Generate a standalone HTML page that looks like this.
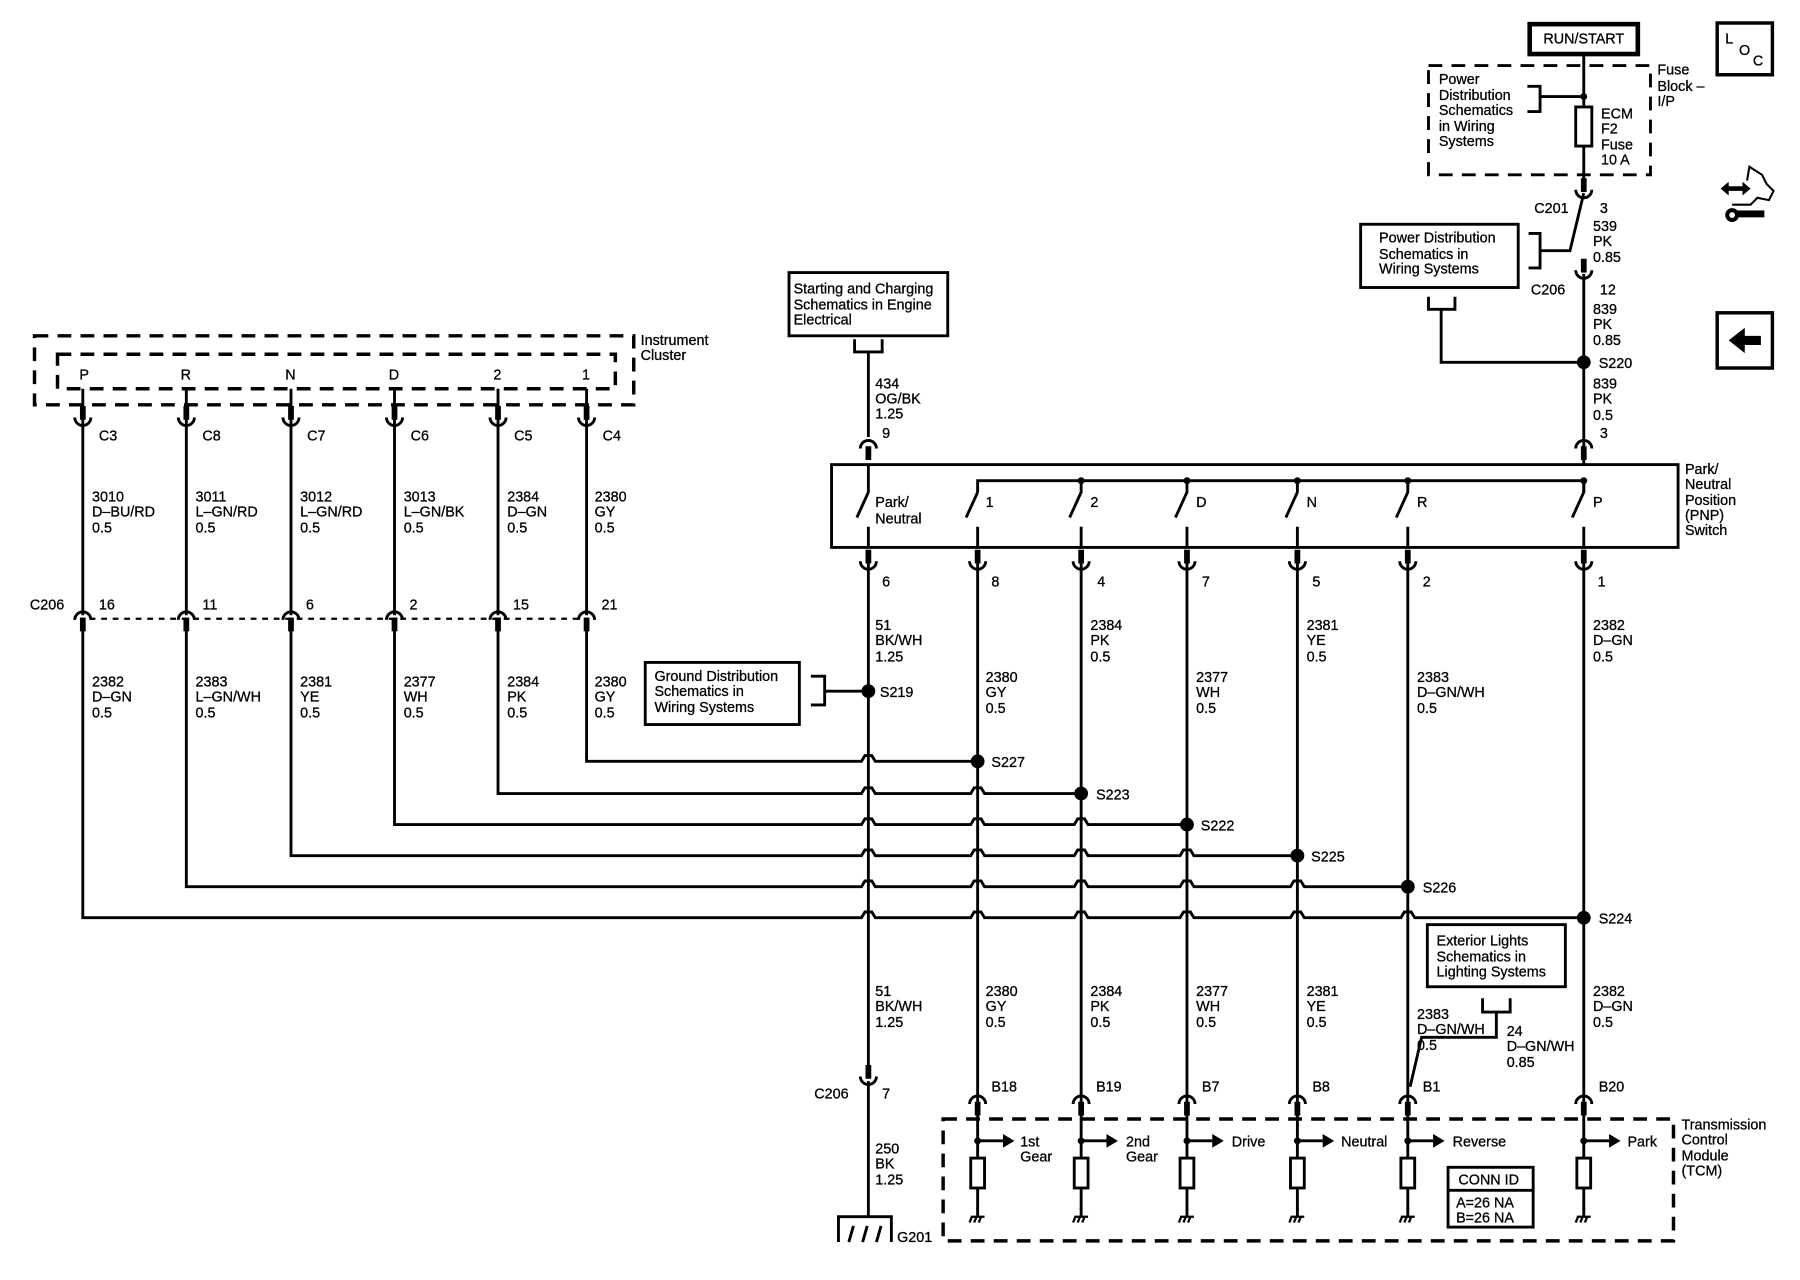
<!DOCTYPE html>
<html><head><meta charset="utf-8"><style>
html,body{margin:0;padding:0;background:#fff;}
svg{display:block;}
text{font-family:"Liberation Sans",Arial,sans-serif;font-size:12.5px;fill:#000;stroke:#000;stroke-width:0.25;}
</style></head><body>
<svg width="1800" height="1280" viewBox="0 0 1565 1113" preserveAspectRatio="none" xmlns="http://www.w3.org/2000/svg">
<defs>
<g id="cu"><line x1="0" y1="-15" x2="0" y2="-3" stroke="#000" stroke-width="5"/><path d="M-7,-5 A7,7 0 0 0 7,-5" fill="none" stroke="#000" stroke-width="2.5"/></g>
<g id="ca"><path d="M-7,5 A7,7 0 0 1 7,5" fill="none" stroke="#000" stroke-width="2.5"/><line x1="0" y1="3" x2="0" y2="15" stroke="#000" stroke-width="5"/></g>
<g id="gnd"><line x1="0" y1="0" x2="0" y2="8" stroke="#000" stroke-width="2.5"/><path d="M-6,8 H6 M-5,8 L-7,13 M-1,8 L-3,13 M3,8 L1,13" stroke="#000" stroke-width="2" fill="none"/></g>
</defs>
<rect width="1565" height="1113" fill="#fff"/>
<g fill="none" stroke="#000" stroke-width="2.5">
<rect x="1330" y="21" width="94" height="26" stroke-width="4"/>
<rect x="1242" y="57" width="193" height="95" stroke-dasharray="12,8"/>
<line x1="1377" y1="47" x2="1377" y2="163"/>
<path d="M1328,75 H1339 V97 H1328 M1339,84 H1377"/>
<rect x="1370" y="93" width="14" height="34" fill="#fff"/>
<path d="M1377,168 L1365,218 H1339 M1329,203 H1339 V233 H1329"/>
<rect x="1183" y="195" width="137" height="55"/>
<line x1="1377" y1="238" x2="1377" y2="404"/>
<path d="M1242,258 V269 H1265 V258 M1253,269 V315 H1377"/>
<rect x="1493" y="20" width="48" height="45" stroke-width="3"/>
<rect x="1493" y="272" width="48" height="48" stroke-width="3"/>
<rect x="30" y="292" width="521" height="60" stroke-dasharray="12,8" stroke-width="3"/>
<rect x="50" y="308" width="485" height="30" stroke-dasharray="12,8" stroke-width="3"/>
<path d="M72,338 V360 M162,338 V360 M253,338 V360 M343,338 V360 M433,338 V360 M510,338 V360"/>
<path d="M72,360 V535 M162,360 V535 M253,360 V535 M343,360 V535 M433,360 V535 M510,360 V535"/>
<line x1="78" y1="538" x2="504" y2="538" stroke-dasharray="5,5" stroke-width="2"/>
<path d="M510,545 V662 H749 L752,657 H758 L761,662 H850"/>
<path d="M433,545 V690 H749 L752,685 H758 L761,690 H844 L847,685 H853 L856,690 H940"/>
<path d="M343,545 V717 H749 L752,712 H758 L761,717 H844 L847,712 H853 L856,717 H934 L937,712 H943 L946,717 H1032"/>
<path d="M253,545 V744 H749 L752,739 H758 L761,744 H844 L847,739 H853 L856,744 H934 L937,739 H943 L946,744 H1026 L1029,739 H1035 L1038,744 H1128"/>
<path d="M162,545 V771 H749 L752,766 H758 L761,771 H844 L847,766 H853 L856,771 H934 L937,766 H943 L946,771 H1026 L1029,766 H1035 L1038,771 H1122 L1125,766 H1131 L1134,771 H1224"/>
<path d="M72,545 V798 H749 L752,793 H758 L761,798 H844 L847,793 H853 L856,798 H934 L937,793 H943 L946,798 H1026 L1029,793 H1035 L1038,798 H1122 L1125,793 H1131 L1134,798 H1218 L1221,793 H1227 L1230,798 H1377"/>
<rect x="686" y="237" width="138" height="55"/>
<path d="M743,295 V306 H767 V295 M755,306 V380"/>
<rect x="723" y="404" width="736" height="72"/>
<path d="M850,428 V418 H1377 V428"/>
<path d="M755,404 V428 L745,450 M755,458 V476"/>
<path d="M850,428 L840,450 M850,458 V476"/>
<path d="M940,418 V428 L930,450 M940,458 V476"/>
<path d="M1032,418 V428 L1022,450 M1032,458 V476"/>
<path d="M1128,418 V428 L1118,450 M1128,458 V476"/>
<path d="M1224,418 V428 L1214,450 M1224,458 V476"/>
<path d="M1377,418 V428 L1367,450 M1377,458 V476"/>
<path d="M755,490 V930 M850,490 V960 M940,490 V960 M1032,490 V960 M1128,490 V960 M1224,490 V960 M1377,490 V960"/>
<path d="M1301,880 V902 H1236 L1226,945"/>
<rect x="561" y="576" width="134" height="54"/>
<path d="M705,588 H717 V613 H705 M717,601 H755"/>
<rect x="1241" y="804" width="120" height="54"/>
<path d="M1289,868 V880 H1313 V868"/>
<line x1="755" y1="940" x2="755" y2="1058"/>
<path d="M729,1080 V1058 H775 V1080 M738,1080 L742,1066 M750,1080 L754,1066 M762,1080 L766,1066"/>
<rect x="820" y="973" width="635" height="106" stroke-dasharray="12,8" stroke-width="3"/>
<path d="M850,965 V1052 M940,965 V1052 M1032,965 V1052 M1128,965 V1052 M1224,965 V1052 M1377,965 V1052"/>
<path d="M850,992 H872 M940,992 H962 M1032,992 H1054 M1128,992 H1150 M1224,992 H1246 M1377,992 H1399"/>
<rect x="1259" y="1015" width="74" height="52"/>
<line x1="1259" y1="1035" x2="1333" y2="1035"/>
</g>
<g fill="#fff" stroke="#000" stroke-width="2.5">
<rect x="844" y="1007" width="12" height="26"/><rect x="934" y="1007" width="12" height="26"/><rect x="1026" y="1007" width="12" height="26"/><rect x="1122" y="1007" width="12" height="26"/><rect x="1218" y="1007" width="12" height="26"/><rect x="1371" y="1007" width="12" height="26"/>
</g>
<g fill="#000">
<path d="M872,986 L882,992 L872,998Z M962,986 L972,992 L962,998Z M1054,986 L1064,992 L1054,998Z M1150,986 L1160,992 L1150,998Z M1246,986 L1256,992 L1246,998Z M1399,986 L1409,992 L1399,998Z"/>
<circle cx="850" cy="992" r="3"/><circle cx="940" cy="992" r="3"/><circle cx="1032" cy="992" r="3"/><circle cx="1128" cy="992" r="3"/><circle cx="1224" cy="992" r="3"/><circle cx="1377" cy="992" r="3"/>
<circle cx="1377" cy="84" r="3"/>
<circle cx="940" cy="418" r="3"/><circle cx="1032" cy="418" r="3"/><circle cx="1128" cy="418" r="3"/><circle cx="1224" cy="418" r="3"/><circle cx="1377" cy="418" r="3"/>
<circle cx="1377" cy="315" r="6"/><circle cx="755" cy="601" r="6"/>
<circle cx="850" cy="662" r="6"/><circle cx="940" cy="690" r="6"/><circle cx="1032" cy="717" r="6"/><circle cx="1128" cy="744" r="6"/><circle cx="1224" cy="771" r="6"/><circle cx="1377" cy="798" r="6"/>
<path d="M1503,296 L1517,285 V292 H1531 V300 H1517 V307Z"/>
<path d="M1496,164 L1503,158 V162 H1515 V158 L1522,164 L1515,170 V166 H1503 V170Z"/>
<rect x="1508" y="183" width="26" height="6"/>
<circle cx="1506" cy="187" r="6"/>
</g>
<path d="M1519,157 L1521,145 L1532,152 L1536,160 L1542,166 L1538,174 L1528,172 L1522,178 H1506" fill="none" stroke="#000" stroke-width="1.8"/>
<circle cx="1506" cy="187" r="2.5" fill="#fff"/>
<use href="#cu" x="1377" y="170"/><use href="#cu" x="1377" y="240"/>
<use href="#cu" x="72" y="368"/><use href="#cu" x="162" y="368"/><use href="#cu" x="253" y="368"/><use href="#cu" x="343" y="368"/><use href="#cu" x="433" y="368"/><use href="#cu" x="510" y="368"/>
<use href="#ca" x="72" y="534"/><use href="#ca" x="162" y="534"/><use href="#ca" x="253" y="534"/><use href="#ca" x="343" y="534"/><use href="#ca" x="433" y="534"/><use href="#ca" x="510" y="534"/>
<use href="#ca" x="755" y="385"/><use href="#ca" x="1377" y="385"/>
<use href="#cu" x="755" y="493"/><use href="#cu" x="850" y="493"/><use href="#cu" x="940" y="493"/><use href="#cu" x="1032" y="493"/><use href="#cu" x="1128" y="493"/><use href="#cu" x="1224" y="493"/><use href="#cu" x="1377" y="493"/>
<use href="#cu" x="755" y="941"/>
<use href="#ca" x="850" y="955"/><use href="#ca" x="940" y="955"/><use href="#ca" x="1032" y="955"/><use href="#ca" x="1128" y="955"/><use href="#ca" x="1224" y="955"/><use href="#ca" x="1377" y="955"/>
<use href="#gnd" x="850" y="1050"/><use href="#gnd" x="940" y="1050"/><use href="#gnd" x="1032" y="1050"/><use href="#gnd" x="1128" y="1050"/><use href="#gnd" x="1224" y="1050"/><use href="#gnd" x="1377" y="1050"/>

<text x="1377" y="38" text-anchor="middle" font-size="13.5">RUN/START</text>
<text x="1251" y="73">Power</text><text x="1251" y="87">Distribution</text><text x="1251" y="100">Schematics</text><text x="1251" y="114">in Wiring</text><text x="1251" y="127">Systems</text>
<text x="1392" y="103">ECM</text><text x="1392" y="116">F2</text><text x="1392" y="130">Fuse</text><text x="1392" y="143">10 A</text>
<text x="1441" y="65">Fuse</text><text x="1441" y="79">Block –</text><text x="1441" y="92">I/P</text>
<text x="1500" y="38" font-size="13">L</text><text x="1512" y="48" font-size="13">O</text><text x="1524" y="57" font-size="13">C</text>
<text x="1334" y="185">C201</text><text x="1391" y="185">3</text>
<text x="1385" y="201">539</text><text x="1385" y="214">PK</text><text x="1385" y="228">0.85</text>
<text x="1199" y="211">Power Distribution</text><text x="1199" y="225">Schematics in</text><text x="1199" y="238">Wiring Systems</text>
<text x="1331" y="256">C206</text><text x="1391" y="256">12</text>
<text x="1385" y="273">839</text><text x="1385" y="286">PK</text><text x="1385" y="300">0.85</text>
<text x="1390" y="320">S220</text>
<text x="1385" y="338">839</text><text x="1385" y="351">PK</text><text x="1385" y="365">0.5</text>
<text x="1391" y="381">3</text>
<text x="1465" y="412">Park/</text><text x="1465" y="425">Neutral</text><text x="1465" y="439">Position</text><text x="1465" y="452">(PNP)</text><text x="1465" y="465">Switch</text>
<text x="690" y="255">Starting and Charging</text><text x="690" y="269">Schematics in Engine</text><text x="690" y="282">Electrical</text>
<text x="761" y="338">434</text><text x="761" y="351">OG/BK</text><text x="761" y="364">1.25</text><text x="767" y="381">9</text>
<text x="761" y="441">Park/</text><text x="761" y="455">Neutral</text>
<text x="857" y="441">1</text><text x="948" y="441">2</text><text x="1040" y="441">D</text><text x="1136" y="441">N</text><text x="1232" y="441">R</text><text x="1385" y="441">P</text>
<text x="767" y="510">6</text><text x="862" y="510">8</text><text x="954" y="510">4</text><text x="1045" y="510">7</text><text x="1141" y="510">5</text><text x="1237" y="510">2</text><text x="1389" y="510">1</text>
<text x="557" y="300">Instrument</text><text x="557" y="313">Cluster</text>
<text x="69" y="330">P</text><text x="157" y="330">R</text><text x="248" y="330">N</text><text x="338" y="330">D</text><text x="429" y="330">2</text><text x="506" y="330">1</text>
<text x="86" y="383">C3</text><text x="176" y="383">C8</text><text x="267" y="383">C7</text><text x="357" y="383">C6</text><text x="447" y="383">C5</text><text x="524" y="383">C4</text>
<text x="80" y="436">3010</text><text x="80" y="449">D–BU/RD</text><text x="80" y="463">0.5</text>
<text x="170" y="436">3011</text><text x="170" y="449">L–GN/RD</text><text x="170" y="463">0.5</text>
<text x="261" y="436">3012</text><text x="261" y="449">L–GN/RD</text><text x="261" y="463">0.5</text>
<text x="351" y="436">3013</text><text x="351" y="449">L–GN/BK</text><text x="351" y="463">0.5</text>
<text x="441" y="436">2384</text><text x="441" y="449">D–GN</text><text x="441" y="463">0.5</text>
<text x="517" y="436">2380</text><text x="517" y="449">GY</text><text x="517" y="463">0.5</text>
<text x="26" y="530">C206</text><text x="86" y="530">16</text><text x="176" y="530">11</text><text x="266" y="530">6</text><text x="356" y="530">2</text><text x="446" y="530">15</text><text x="523" y="530">21</text>
<text x="80" y="597">2382</text><text x="80" y="610">D–GN</text><text x="80" y="624">0.5</text>
<text x="170" y="597">2383</text><text x="170" y="610">L–GN/WH</text><text x="170" y="624">0.5</text>
<text x="261" y="597">2381</text><text x="261" y="610">YE</text><text x="261" y="624">0.5</text>
<text x="351" y="597">2377</text><text x="351" y="610">WH</text><text x="351" y="624">0.5</text>
<text x="441" y="597">2384</text><text x="441" y="610">PK</text><text x="441" y="624">0.5</text>
<text x="517" y="597">2380</text><text x="517" y="610">GY</text><text x="517" y="624">0.5</text>
<text x="761" y="548">51</text><text x="761" y="561">BK/WH</text><text x="761" y="575">1.25</text>
<text x="857" y="593">2380</text><text x="857" y="606">GY</text><text x="857" y="620">0.5</text>
<text x="948" y="548">2384</text><text x="948" y="561">PK</text><text x="948" y="575">0.5</text>
<text x="1040" y="593">2377</text><text x="1040" y="606">WH</text><text x="1040" y="620">0.5</text>
<text x="1136" y="548">2381</text><text x="1136" y="561">YE</text><text x="1136" y="575">0.5</text>
<text x="1232" y="593">2383</text><text x="1232" y="606">D–GN/WH</text><text x="1232" y="620">0.5</text>
<text x="1385" y="548">2382</text><text x="1385" y="561">D–GN</text><text x="1385" y="575">0.5</text>
<text x="569" y="592">Ground Distribution</text><text x="569" y="605">Schematics in</text><text x="569" y="619">Wiring Systems</text>
<text x="765" y="606">S219</text>
<text x="862" y="667">S227</text><text x="953" y="695">S223</text><text x="1044" y="722">S222</text><text x="1140" y="749">S225</text><text x="1237" y="776">S226</text><text x="1390" y="803">S224</text>
<text x="1249" y="822">Exterior Lights</text><text x="1249" y="836">Schematics in</text><text x="1249" y="849">Lighting Systems</text>
<text x="761" y="866">51</text><text x="761" y="879">BK/WH</text><text x="761" y="893">1.25</text>
<text x="857" y="866">2380</text><text x="857" y="879">GY</text><text x="857" y="893">0.5</text>
<text x="948" y="866">2384</text><text x="948" y="879">PK</text><text x="948" y="893">0.5</text>
<text x="1040" y="866">2377</text><text x="1040" y="879">WH</text><text x="1040" y="893">0.5</text>
<text x="1136" y="866">2381</text><text x="1136" y="879">YE</text><text x="1136" y="893">0.5</text>
<text x="1232" y="886">2383</text><text x="1232" y="899">D–GN/WH</text><text x="1232" y="913">0.5</text>
<text x="1310" y="901">24</text><text x="1310" y="914">D–GN/WH</text><text x="1310" y="928">0.85</text>
<text x="1385" y="866">2382</text><text x="1385" y="879">D–GN</text><text x="1385" y="893">0.5</text>
<text x="708" y="955">C206</text><text x="767" y="955">7</text>
<text x="862" y="949">B18</text><text x="953" y="949">B19</text><text x="1045" y="949">B7</text><text x="1141" y="949">B8</text><text x="1237" y="949">B1</text><text x="1390" y="949">B20</text>
<text x="761" y="1003">250</text><text x="761" y="1016">BK</text><text x="761" y="1030">1.25</text>
<text x="780" y="1080">G201</text>
<text x="887" y="997">1st</text><text x="887" y="1010">Gear</text>
<text x="979" y="997">2nd</text><text x="979" y="1010">Gear</text>
<text x="1071" y="997">Drive</text><text x="1166" y="997">Neutral</text><text x="1263" y="997">Reverse</text><text x="1415" y="997">Park</text>
<text x="1268" y="1030">CONN ID</text><text x="1266" y="1050">A=26 NA</text><text x="1266" y="1063">B=26 NA</text>
<text x="1462" y="982">Transmission</text><text x="1462" y="995">Control</text><text x="1462" y="1009">Module</text><text x="1462" y="1022">(TCM)</text>
</svg>
</body></html>
